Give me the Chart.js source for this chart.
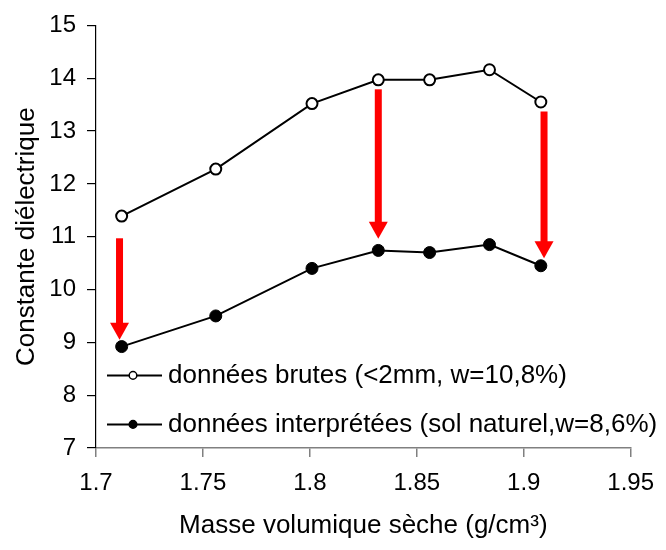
<!DOCTYPE html>
<html>
<head>
<meta charset="utf-8">
<script src="https://cdn.jsdelivr.net/npm/chart.js@4"></script>
<style>
  html, body { margin: 0; padding: 0; background: #fff; }
</style>
</head>
<body>
<canvas id="chart" width="666" height="550"></canvas>
<script>
// Masse volumique sèche (g/cm3)
const densities = [1.712, 1.756, 1.801, 1.832, 1.856, 1.884, 1.908];
// Constante diélectrique
const rawValues = [11.39, 12.28, 13.52, 13.97, 13.97, 14.16, 13.55];
const interpretedValues = [8.92, 9.50, 10.40, 10.74, 10.70, 10.85, 10.45];

const rawLabel = 'données brutes (<2mm, w=10,8%)';
const interpretedLabel = 'données interprétées (sol naturel,w=8,6%)';

// red arrows: x position, start and end values
const arrowX = [1.711, 1.832, 1.9095];
const arrowFrom = [10.97, 13.79, 13.37];
const arrowTo = [9.05, 10.96, 10.59];

const xTicks = [1.7, 1.75, 1.8, 1.85, 1.9, 1.95];
const yTicks = [7, 8, 9, 10, 11, 12, 13, 14, 15];

const FONT = "'Liberation Sans', Arial, sans-serif";

// Draw the red arrows from raw to interpreted values
const arrowPlugin = {
    id: 'arrows',
    afterDatasetsDraw(chart) {
        const ctx = chart.ctx;
        const xs = chart.scales.x;
        const ys = chart.scales.y;
        ctx.save();
        ctx.fillStyle = '#ff0000';
        for (let i = 0; i < arrowX.length; i++) {
            const px = xs.getPixelForValue(arrowX[i]);
            const top = ys.getPixelForValue(arrowFrom[i]);
            const tip = ys.getPixelForValue(arrowTo[i]);
            const headLen = 17;
            ctx.fillRect(px - 3.5, top, 7, tip - top - headLen + 1);
            ctx.beginPath();
            ctx.moveTo(px - 9.5, tip - headLen);
            ctx.lineTo(px + 9.5, tip - headLen);
            ctx.lineTo(px, tip);
            ctx.closePath();
            ctx.fill();
        }
        ctx.restore();
    }
};

// Legend drawn inside the plot, lower left
const legendPlugin = {
    id: 'insideLegend',
    afterDraw(chart) {
        const ctx = chart.ctx;
        const area = chart.chartArea;
        const x0 = area.left + 11;
        const rows = [area.top + 350, area.top + 399];
        ctx.save();
        chart.data.datasets.forEach((ds, i) => {
            const y = rows[i];
            ctx.strokeStyle = '#000';
            ctx.lineWidth = 2;
            ctx.beginPath();
            ctx.moveTo(x0, y);
            ctx.lineTo(x0 + 55, y);
            ctx.stroke();
            ctx.beginPath();
            ctx.arc(x0 + 26, y, 3.8, 0, Math.PI * 2);
            ctx.fillStyle = ds.pointBackgroundColor;
            ctx.fill();
            ctx.lineWidth = 1.5;
            ctx.stroke();
            ctx.fillStyle = '#000';
            ctx.font = '26px ' + FONT;
            ctx.textBaseline = 'middle';
            ctx.fillText(ds.label, x0 + 61, y);
        });
        ctx.restore();
    }
};

new Chart(document.getElementById('chart'), {
    type: 'line',
    data: {
        datasets: [
            {
                label: rawLabel,
                data: densities.map((d, i) => ({ x: d, y: rawValues[i] })),
                borderColor: '#000',
                borderWidth: 2,
                pointRadius: 5.5,
                pointBorderWidth: 2,
                pointBackgroundColor: '#fff',
                pointBorderColor: '#000',
                tension: 0
            },
            {
                label: interpretedLabel,
                data: densities.map((d, i) => ({ x: d, y: interpretedValues[i] })),
                borderColor: '#000',
                borderWidth: 2,
                pointRadius: 6,
                pointBorderWidth: 1,
                pointBackgroundColor: '#000',
                pointBorderColor: '#000',
                tension: 0
            }
        ]
    },
    options: {
        responsive: false,
        animation: false,
        layout: {
            padding: { top: 22, right: 28, bottom: 0, left: 0 }
        },
        plugins: {
            legend: { display: false },
            tooltip: { enabled: false }
        },
        scales: {
            x: {
                type: 'linear',
                min: 1.7,
                max: 1.95,
                afterBuildTicks: (axis) => { axis.ticks = xTicks.map(v => ({ value: v })); },
                afterFit: (axis) => { axis.height = 102; },
                ticks: {
                    color: '#000',
                    font: { family: FONT, size: 24 },
                    padding: 12,
                    maxRotation: 0,
                    callback: (v) => String(v)
                },
                grid: {
                    display: true,
                    drawOnChartArea: false,
                    drawTicks: true,
                    tickLength: 9,
                    color: '#808080',
                    lineWidth: 1.5
                },
                border: { color: '#808080', width: 1.5 },
                title: {
                    display: true,
                    text: 'Masse volumique sèche (g/cm³)',
                    color: '#000',
                    font: { family: FONT, size: 26 },
                    padding: { top: 8, bottom: 9 }
                }
            },
            y: {
                type: 'linear',
                min: 7,
                max: 15,
                afterBuildTicks: (axis) => { axis.ticks = yTicks.map(v => ({ value: v })); },
                afterFit: (axis) => { axis.width = 96; },
                ticks: {
                    color: '#000',
                    font: { family: FONT, size: 24 },
                    padding: 11
                },
                grid: {
                    display: true,
                    drawOnChartArea: false,
                    drawTicks: true,
                    tickLength: 9,
                    color: '#000',
                    lineWidth: 1.2
                },
                border: { color: '#000', width: 1.2 },
                title: {
                    display: true,
                    text: 'Constante diélectrique',
                    color: '#000',
                    font: { family: FONT, size: 26 },
                    padding: { top: 11, bottom: 6 }
                }
            }
        }
    },
    plugins: [arrowPlugin, legendPlugin]
});
</script>
</body>
</html>
